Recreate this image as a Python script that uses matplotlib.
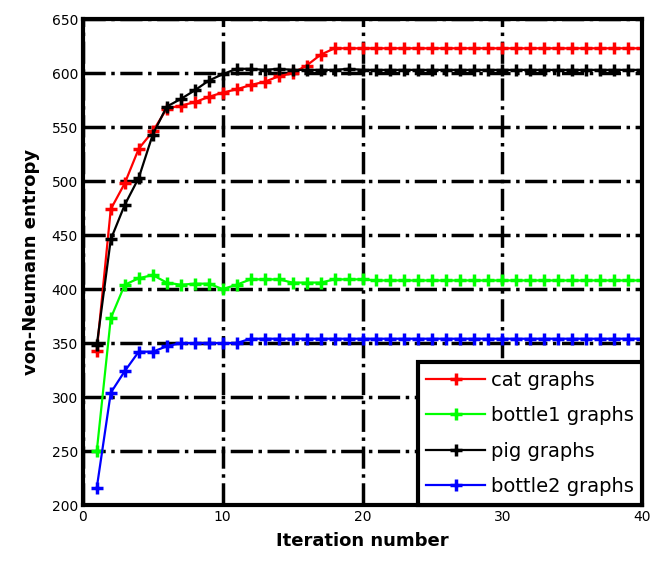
import matplotlib
matplotlib.use("Agg")
import matplotlib.pyplot as plt
import numpy as np

iterations = list(range(1, 41))

cat = [343, 474, 498, 530, 546, 567, 570, 573, 578, 582,
       585, 589, 592, 597, 600, 607, 617, 623, 623, 623,
       623, 623, 623, 623, 623, 623, 623, 623, 623, 623,
       623, 623, 623, 623, 623, 623, 623, 623, 623, 623]
bottle1 = [250, 373, 404, 410, 413, 406, 404, 405, 405, 400,
           404, 409, 409, 409, 406, 406, 406, 409, 409, 409,
           408, 408, 408, 408, 408, 408, 408, 408, 408, 408,
           408, 408, 408, 408, 408, 408, 408, 408, 408, 408]
pig = [348, 446, 478, 503, 543, 569, 576, 584, 593, 599,
       604, 604, 603, 604, 603, 603, 603, 603, 604, 603,
       603, 603, 603, 603, 603, 603, 603, 603, 603, 603,
       603, 603, 603, 603, 603, 603, 603, 603, 603, 603]
bottle2 = [216, 304, 324, 342, 342, 347, 350, 350, 350, 350,
           350, 354, 354, 354, 354, 354, 354, 354, 354, 354,
           354, 354, 354, 354, 354, 354, 354, 354, 354, 354,
           354, 354, 354, 354, 354, 354, 354, 354, 354, 354]

series_labels = ["cat graphs", "bottle1 graphs", "pig graphs", "bottle2 graphs"]
series_colors = ["#ff0000", "#00ff00", "#000000", "#0000ff"]
x_ticks = [0, 10, 20, 30, 40]
y_ticks = list(range(200, 651, 50))

fig = plt.figure(figsize=(6.52, 5.63), dpi=100)
ax = fig.add_axes([0.127, 0.103, 0.858, 0.863])

for data, lab, col in zip([cat, bottle1, pig, bottle2], series_labels, series_colors):
    ax.plot(iterations, data, color=col, marker="+", markersize=9,
            markeredgewidth=2.5, linewidth=1.6, label=lab)

ax.set_xlim(0, 40)
ax.set_ylim(200, 650)
ax.set_xticks(x_ticks)
ax.set_yticks(y_ticks)
ax.grid(True, color="black", linestyle="-.", linewidth=2.5)
ax.set_axisbelow(True)
for sp in ax.spines.values():
    sp.set_linewidth(3)
ax.tick_params(direction="in", length=5, width=2, labelsize=10)

ax.set_xlabel("Iteration number", fontsize=13, fontweight="bold", labelpad=6)
ax.set_ylabel("von-Neumann entropy", fontsize=13, fontweight="bold", labelpad=8)

leg = ax.legend(loc="lower right", fontsize=14, frameon=True, fancybox=False,
                borderaxespad=0.0, handlelength=3.0, handletextpad=0.3,
                labelspacing=0.85, borderpad=0.45)
leg.get_frame().set_edgecolor("black")
leg.get_frame().set_linewidth(3)
leg.get_frame().set_alpha(1)

fig.savefig("out.png", dpi=100)
